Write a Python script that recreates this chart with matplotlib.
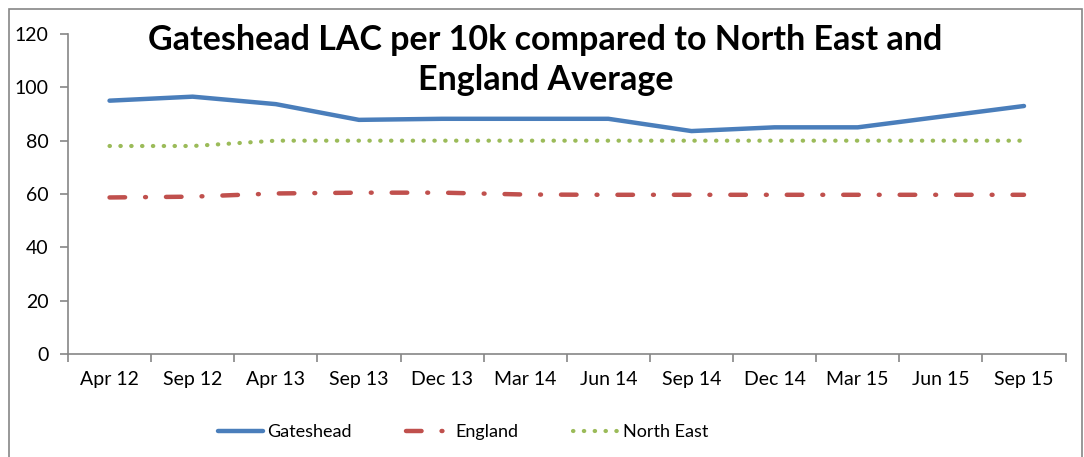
import matplotlib.pyplot as plt
import matplotlib.patches as mpatches

# category labels and series
periods = ["Apr 12", "Sep 12", "Apr 13", "Sep 13", "Dec 13", "Mar 14",
           "Jun 14", "Sep 14", "Dec 14", "Mar 15", "Jun 15", "Sep 15"]
gateshead = [95, 96.5, 93.7, 87.8, 88.2, 88.2, 88.2, 83.6, 85, 85, 89, 93]
england = [58.7, 59, 60.2, 60.5, 60.5, 59.8, 59.7, 59.7, 59.7, 59.7, 59.7, 59.7]
north_east = [78, 78, 80, 80, 80, 80, 80, 80, 80, 80, 80, 80]

plt.rcParams['font.family'] = ['Lato', 'DejaVu Sans']

fig = plt.figure(figsize=(10.84, 4.57), dpi=100)
ax = fig.add_axes([0.0627, 0.2254, 0.9203, 0.7002])

x = list(range(len(periods)))
ax.plot(x, gateshead, color="#4a7ebb", lw=3.2, solid_capstyle="round", label="Gateshead")
ax.plot(x, england, color="#c0504d", lw=3.2, dash_capstyle="round",
        dashes=(3.5, 4.5, 0.2, 4.5), label="England")
ax.plot(x, north_east, color="#9bbb59", lw=3, dash_capstyle="round",
        dashes=(0.1, 2.5), label="North East")

ax.set_xlim(-0.5, len(periods) - 0.5)
ax.set_ylim(0, 120)
ax.set_yticks(range(0, 121, 20))
ax.set_xticks(x)
ax.set_xticklabels(periods)
ax.set_xticks([i - 0.5 for i in range(len(periods) + 1)], minor=True)
ax.tick_params(axis='x', which='major', length=0, pad=12, labelsize=14)
ax.tick_params(axis='x', which='minor', length=6, color="#868686", width=1.2)
ax.tick_params(axis='y', length=6, color="#868686", width=1.2, labelsize=14, pad=8)

for s in ["top", "right"]:
    ax.spines[s].set_visible(False)
for s in ["left", "bottom"]:
    ax.spines[s].set_color("#868686")
    ax.spines[s].set_linewidth(1.2)

fig.text(0.503, 0.869, "Gateshead LAC per 10k compared to North East and\nEngland Average",
         ha="center", va="center", fontsize=24.5, fontweight="bold", linespacing=1.3)

ax.legend(loc="center", bbox_to_anchor=(0.427, 0.055), bbox_transform=fig.transFigure,
          ncol=3, frameon=False, fontsize=13, handlelength=2.5, columnspacing=3.0,
          handletextpad=0.25)

fig.patches.append(mpatches.Rectangle((0.008, -0.05), 0.99, 1.03, transform=fig.transFigure,
                                      fill=False, edgecolor="#868686", lw=1.2))

fig.savefig("out.png", dpi=100)
